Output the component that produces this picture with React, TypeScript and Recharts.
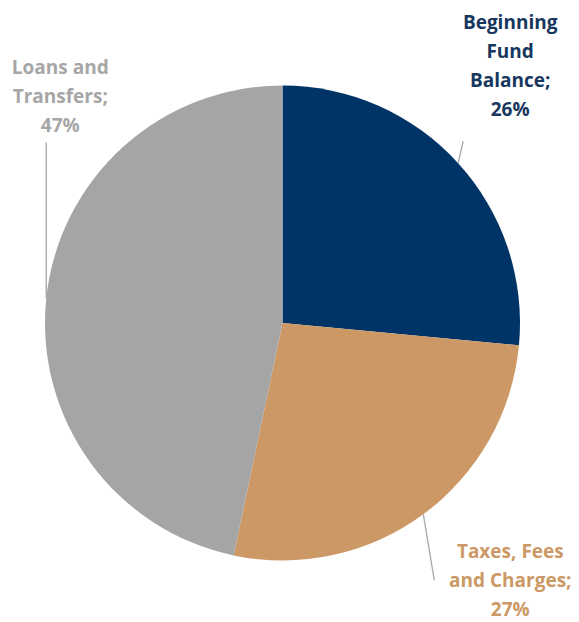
import React from "react";
import { PieChart, Pie, Cell } from "recharts";

const categories = ["Beginning Fund Balance", "Taxes, Fees and Charges", "Loans and Transfers"];
const labelLines = [["Beginning", "Fund", "Balance;"], ["Taxes, Fees", "and Charges;"], ["Loans and", "Transfers;"]];
const values = [26.5, 26.8, 46.7];
const percentLabels = ["26%", "27%", "47%"];
const sliceColors = ["#003366", "#CC9966", "#A5A5A5"];
const textColors = ["#17375E", "#CC9966", "#A6A6A6"];

// label layout: offsets relative to the slice's outer-edge midpoint
const lineEndOffsets = [[5, -22], [11, 66], [0, -156]];
const textCenterOffsets = [[52, -98], [87, 66], [14, -202]];

const data = categories.map((name, i) => ({ name, value: values[i] }));

const RADIAN = Math.PI / 180;
const LINE_H = 29;

const renderLabel = (props: any) => {
  const { cx, cy, midAngle, outerRadius, index } = props;
  const ex = cx + outerRadius * Math.cos(-midAngle * RADIAN);
  const ey = cy + outerRadius * Math.sin(-midAngle * RADIAN);
  const [lx, ly] = lineEndOffsets[index];
  const [tx, ty] = textCenterOffsets[index];
  const lines = [...labelLines[index], percentLabels[index]];
  const startY = ey + ty - ((lines.length - 1) * LINE_H) / 2;
  return (
    <g key={`lbl-${index}`}>
      <line x1={ex} y1={ey} x2={ex + lx} y2={ey + ly} stroke="#A6A6A6" strokeWidth={1.3} />
      <text
        x={ex + tx}
        y={startY}
        textAnchor="middle"
        dominantBaseline="central"
        fill={textColors[index]}
        fontFamily="'Open Sans', sans-serif"
        fontWeight={700}
        fontSize={19}
      >
        {lines.map((t, i) => (
          <tspan key={i} x={ex + tx} y={startY + i * LINE_H}>
            {t}
          </tspan>
        ))}
      </text>
    </g>
  );
};

export default function App() {
  return (
    <div style={{ position: "absolute", left: 0, top: 0, width: 579, height: 622, background: "#fff" }}>
      <style>{`.recharts-pie-sectors { filter: drop-shadow(0px 0px 4px rgba(0,0,0,0.3)); }`}</style>
      <PieChart width={579} height={622} margin={{ top: 0, right: 0, bottom: 0, left: 0 }}>
        <Pie
          data={data}
          dataKey="value"
          nameKey="name"
          cx={282.5}
          cy={323}
          outerRadius={237.5}
          startAngle={90}
          endAngle={-270}
          stroke="none"
          label={renderLabel}
          labelLine={false}
          isAnimationActive={false}
        >
          {data.map((d, i) => (
            <Cell key={d.name} fill={sliceColors[i]} />
          ))}
        </Pie>
      </PieChart>
    </div>
  );
}
